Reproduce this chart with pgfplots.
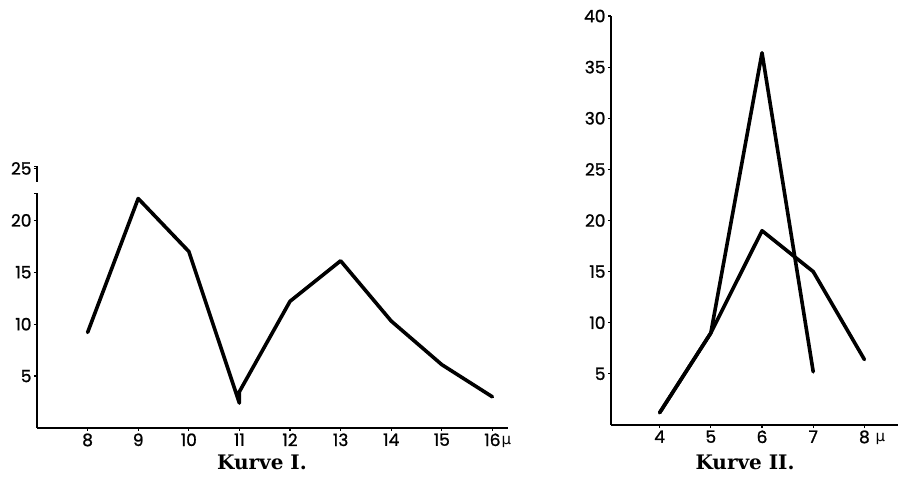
\documentclass[border=0pt]{standalone}
\usepackage{fontspec}
\usepackage{pgfplots}
\pgfplotsset{compat=1.18}
\newfontfamily\tickfont[FakeBold=1.2]{Poppins}
\newfontfamily\symfont{DejaVu Sans}
\newfontfamily\titlefont{DejaVu Serif}

\pgfplotsset{kurve/.style={scale only axis,
  axis x line*=bottom, axis y line*=left,
  axis line style={line width=1.6pt,-},
  tick align=outside, major tick length=3pt,
  tick style={line width=1.2pt,black},
  tick label style={font=\tickfont\fontsize{17}{17}\selectfont},
  /pgf/number format/assume math mode=true,
  xticklabel style={yshift=1pt},
  yticklabel style={xshift=1pt},
  clip=false},
  curve/.style={black,line width=3.6pt,line join=round,line cap=round}}

\begin{document}
\begin{tikzpicture}
\path[use as bounding box] (0,0) rectangle (898pt,477pt);

% Kurve I
\begin{axis}[kurve,at={(37pt,49pt)},anchor=south west,
  width=470.6pt,height=259.6pt,
  xmin=7,xmax=16.3,ymin=0,ymax=25,
  xtick={8,...,16},ytick={5,10,...,25},
  y axis line style={draw=none}]
\addplot[curve] coordinates {(8,9.2) (9,22.1) (10,17.0) (11,2.4) (11,3.5)
  (12,12.2) (13,16.1) (14,10.3) (15,6.1) (16,3.0)};
\draw[line width=1.6pt] (axis cs:7,0) -- (axis cs:7,22.6) -- ++(-3pt,0pt);
\draw[line width=1.6pt] (axis cs:7,23.7) -- (axis cs:7,25.2) -- ++(-3pt,0pt);
\node[font=\symfont\fontsize{15}{15}\selectfont] at ([xshift=14pt,yshift=-14pt]axis cs:16,0) {μ};
\end{axis}

% Kurve II
\begin{axis}[kurve,at={(611pt,52pt)},anchor=south west,
  width=286.7pt,height=409pt,
  xmin=3.05,xmax=8.65,ymin=0,ymax=40,
  xtick={4,...,8},ytick={5,10,...,40}]
\addplot[curve] coordinates {(4,1.2) (5,9.0) (6,36.4) (7,5.2)};
\addplot[curve] coordinates {(4,1.2) (5,9.0) (6,19.0) (7,15.0) (8,6.4)};
\node[font=\symfont\fontsize{15}{15}\selectfont] at ([xshift=16pt,yshift=-14pt]axis cs:8,0) {μ};
\end{axis}

\node[font=\titlefont\bfseries\fontsize{20}{20}\selectfont] at (262pt,15pt) {Kurve I.};
\node[font=\titlefont\bfseries\fontsize{20}{20}\selectfont] at (745pt,15pt) {Kurve II.};
\end{tikzpicture}
\end{document}
